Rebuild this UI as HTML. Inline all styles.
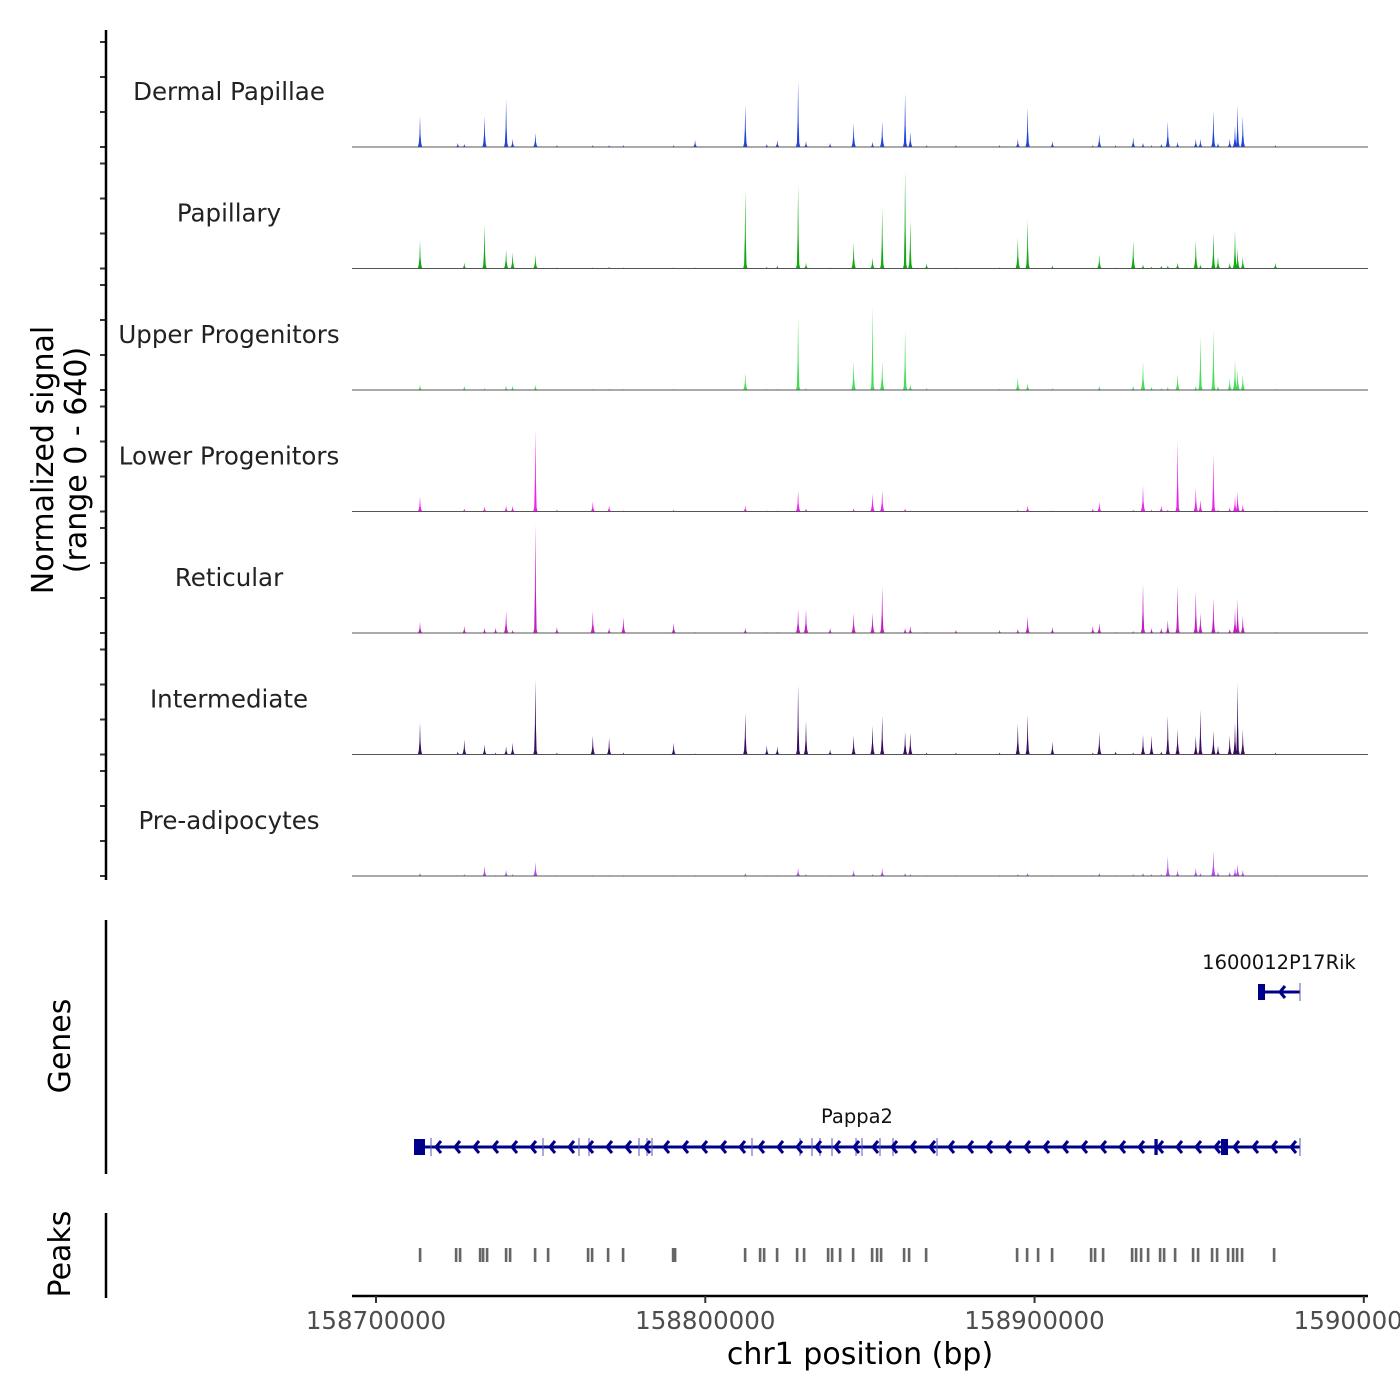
<!DOCTYPE html>
<html><head><meta charset="utf-8"><style>
html,body{margin:0;padding:0;background:#fff;}
svg{display:block;font-family:"DejaVu Sans","Liberation Sans",sans-serif;}
</style></head><body>
<svg id="chart" width="1400" height="1400" viewBox="0 0 1400 1400">
<g id="tracks"></g>
<g id="yaxis"></g>
<g id="genes"></g>
<g id="peaks"></g>
<g id="xaxis"></g>
</svg>
<script>
const trackNames = ["Dermal Papillae","Papillary","Upper Progenitors","Lower Progenitors","Reticular","Intermediate","Pre-adipocytes"];
const trackColors = ["#2244dd","#11aa11","#44dd55","#ee22ee","#c41cc4","#3a0c60","#b448f0"];
const signalPos = [158713363,158724847,158726827,158732965,158736331,158739499,158741479,158748409,158754943,158765833,158770783,158775139,158790385,158796919,158812165,158818699,158821867,158828203,158830579,158837905,158845033,158850775,158853745,158860675,158862259,158867209,158876119,158889385,158894929,158897899,158905423,158917699,158919679,158924629,158929975,158932945,158935519,158938489,158940469,158943439,158948983,158950369,158954329,158955715,158959279,158960863,158961655,158963239,158973139];
const dermalVals = [177,23,17,177,0,274,46,80,11,11,11,11,11,40,245,17,40,376,34,23,137,29,148,308,86,11,11,11,46,228,34,11,74,11,57,23,11,17,148,29,46,46,211,23,46,120,240,177,11];
const papillaryVals = [160,0,34,251,0,108,91,80,6,6,11,6,6,6,450,11,17,479,34,6,148,63,342,559,279,29,6,6,177,279,17,6,80,6,160,23,11,17,17,34,160,23,205,68,34,222,114,68,34];
const upperVals = [29,0,23,11,0,23,23,29,0,6,6,6,6,0,97,6,6,422,11,0,165,479,165,348,34,11,0,6,74,40,11,0,23,0,23,165,17,11,17,91,23,308,348,23,68,171,114,86,6];
const lowerVals = [86,0,17,29,0,34,34,467,11,57,34,6,11,0,34,6,6,120,17,0,17,103,120,17,6,0,0,0,11,34,6,17,57,0,11,148,11,34,11,405,137,68,331,11,23,86,114,40,6];
const reticularVals = [63,0,40,29,29,125,17,621,34,125,29,91,57,6,29,6,6,137,137,29,114,114,268,29,40,6,17,17,23,97,34,40,57,6,11,285,29,29,74,274,239,114,200,11,23,137,194,97,6];
const intermediateVals = [183,17,86,57,11,46,68,428,11,108,97,11,68,6,240,51,46,400,194,29,108,165,222,131,125,11,11,11,177,228,74,11,125,17,11,114,108,17,222,148,108,257,137,51,108,183,411,143,11];
const preadipoVals = [17,6,11,57,6,34,11,80,6,6,6,6,6,6,17,6,6,46,11,6,34,11,46,17,11,6,6,6,11,17,6,6,17,6,11,17,11,11,114,34,46,17,143,23,23,46,68,34,6];
const peakPos = [158713360,158724300,158725510,158731590,158732500,158733710,158739480,158740700,158748290,158752240,158764380,158765600,158770460,158775010,158790200,158790810,158812070,158816620,158817840,158821780,158827860,158829980,158837270,158838490,158840920,158844870,158850640,158852150,158853370,158860350,158861870,158867040,158894670,158897710,158901050,158905300,158917150,158918360,158920790,158929600,158930810,158932330,158934460,158938100,158939320,158942660,158948120,158949640,158953890,158955410,158958750,158960270,158961490,158963000,158972720];
const xTicks = [158700000,158800000,158900000,159000000];
const yTicks = [0,200,400,600];
const pappa2 = {start:158711540,end:158980620};
const pappa2Exons = [[158711540,158714880],[158956630,158958750],[158936400,158937400]];
const pappa2ThinExons = [158716700,158750720,158761650,158764690,158779870,158782300,158783820,158814190,158828770,158832410,158834840,158838490,158845780,158847600,158853060,158857010,158870380,158980620];
const rik = {start:158967860,end:158980620};
const rikExons = [[158967860,158970000]];

const NS="http://www.w3.org/2000/svg";
function mk(tag,attrs,parent){const e=document.createElementNS(NS,tag);for(const k in attrs)e.setAttribute(k,attrs[k]);parent.appendChild(e);return e;}
const X0=352,X1=1368,B0=158692710,B1=159001270;
const xs=v=>X0+(v-B0)/(B1-B0)*(X1-X0);
const yMax=640, trackH=112;
const baseOf=i=>147+121.5*i;
const allVals=[dermalVals,papillaryVals,upperVals,lowerVals,reticularVals,intermediateVals,preadipoVals];

const tracks=document.getElementById('tracks');
const yaxis=document.getElementById('yaxis');
trackNames.forEach((nm,i)=>{
  const b=baseOf(i);
  const g=mk('g',{},tracks);
  
  
  const t=mk('text',{x:229,y:b-47,'text-anchor':'middle','font-size':24.5,fill:'#222'},g);
  t.textContent=nm;
  
  
  let d='';
  signalPos.forEach((p,j)=>{
    const v=allVals[i][j]; if(!v) return;
    const x=xs(p), h=v/yMax*trackH;
    d+=`M${(x-2.2).toFixed(1)},${b}L${(x-1.2).toFixed(1)},${(b-Math.min(h*0.15,4)).toFixed(1)}L${(x-0.5).toFixed(1)},${(b-h*0.4).toFixed(1)}L${x.toFixed(1)},${(b-h).toFixed(1)}L${(x+0.5).toFixed(1)},${(b-h*0.4).toFixed(1)}L${(x+1.2).toFixed(1)},${(b-Math.min(h*0.15,4)).toFixed(1)}L${(x+2.2).toFixed(1)},${b}Z`;
  });
  const path=mk('path',{d:d,fill:trackColors[i]},g);
  
  
  const bl=mk('line',{x1:X0,x2:X1,y1:b,y2:b,stroke:'#555','stroke-width':1},g);
  
  
  yTicks.forEach(tv=>{
    const y=b-tv/yMax*trackH;
    const tk=mk('line',{x1:100,x2:106,y1:y,y2:y,stroke:'#333','stroke-width':2},yaxis);
    
    
  });
});
const ya=mk('line',{x1:106,x2:106,y1:30,y2:880,stroke:'#000','stroke-width':2.5},yaxis);


const yt=mk('text',{transform:'translate(53,460) rotate(-90)','text-anchor':'middle','font-size':30,fill:'#000'},yaxis);


const ts1=mk('tspan',{x:0,dy:0},yt); ts1.textContent='Normalized signal';
const ts2=mk('tspan',{x:0,dy:33},yt); ts2.textContent='(range 0 - 640)';

const genes=document.getElementById('genes');
const gl=mk('line',{x1:106,x2:106,y1:920,y2:1174,stroke:'#000','stroke-width':2.5},genes);


const gt=mk('text',{transform:'translate(70,1046) rotate(-90)','text-anchor':'middle','font-size':30},genes);
gt.textContent='Genes';


const GC='#00008b';
function drawGene(g,name,y,labelY,labelX,thin,exons){
  const gg=mk('g',{},genes);
  
  
  const x1=xs(g.start),x2=xs(g.end);
  mk('line',{x1:x1,x2:x2,y1:y,y2:y,stroke:GC,'stroke-width':3},gg);
  thin.forEach(p=>{const x=xs(p);mk('line',{x1:x,x2:x,y1:y-9,y2:y+9,stroke:'#5555bb','stroke-width':1},gg);});
  for(let x=x1+22;x<x2-6;x+=19){mk('path',{d:`M${x+5},${y-6}L${x},${y}L${x+5},${y+6}`,stroke:GC,'stroke-width':3,fill:'none'},gg);}
  exons.forEach(e=>{const a=xs(e[0]),b=xs(e[1]);mk('rect',{x:a,y:y-8,width:Math.max(b-a,2.5),height:16,fill:GC},gg);});
  const lt=mk('text',{x:labelX,y:labelY,'text-anchor':'middle','font-size':19.5,fill:'#111'},gg);
  lt.textContent=name;
  
  
}
drawGene(pappa2,'Pappa2',1147,1123,857,pappa2ThinExons,pappa2Exons);
drawGene(rik,'1600012P17Rik',992,969,1279,[rik.end],rikExons);

const peaks=document.getElementById('peaks');
const pl=mk('line',{x1:106,x2:106,y1:1213,y2:1298,stroke:'#000','stroke-width':2.5},peaks);


const pt=mk('text',{transform:'translate(70,1254) rotate(-90)','text-anchor':'middle','font-size':30},peaks);
pt.textContent='Peaks';


peakPos.forEach(p=>{
  const r=mk('rect',{x:xs(p)-1.2,y:1248,width:2.6,height:14,fill:'#666'},peaks);
  
  
});

const xa=document.getElementById('xaxis');
const xl=mk('line',{x1:X0,x2:X1,y1:1296,y2:1296,stroke:'#000','stroke-width':2.5},xa);


xTicks.forEach(v=>{
  const x=xs(v);
  const tk=mk('line',{x1:x,x2:x,y1:1296,y2:1303,stroke:'#333','stroke-width':2},xa);
  
  
  const tl=mk('text',{x:x,y:1329,'text-anchor':'middle','font-size':24.5,fill:'#4d4d4d'},xa);
  tl.textContent=String(v);
  
  
});
const xt=mk('text',{x:860,y:1364,'text-anchor':'middle','font-size':30},xa);
xt.textContent='chr1 position (bp)';


</script>
</body></html>
